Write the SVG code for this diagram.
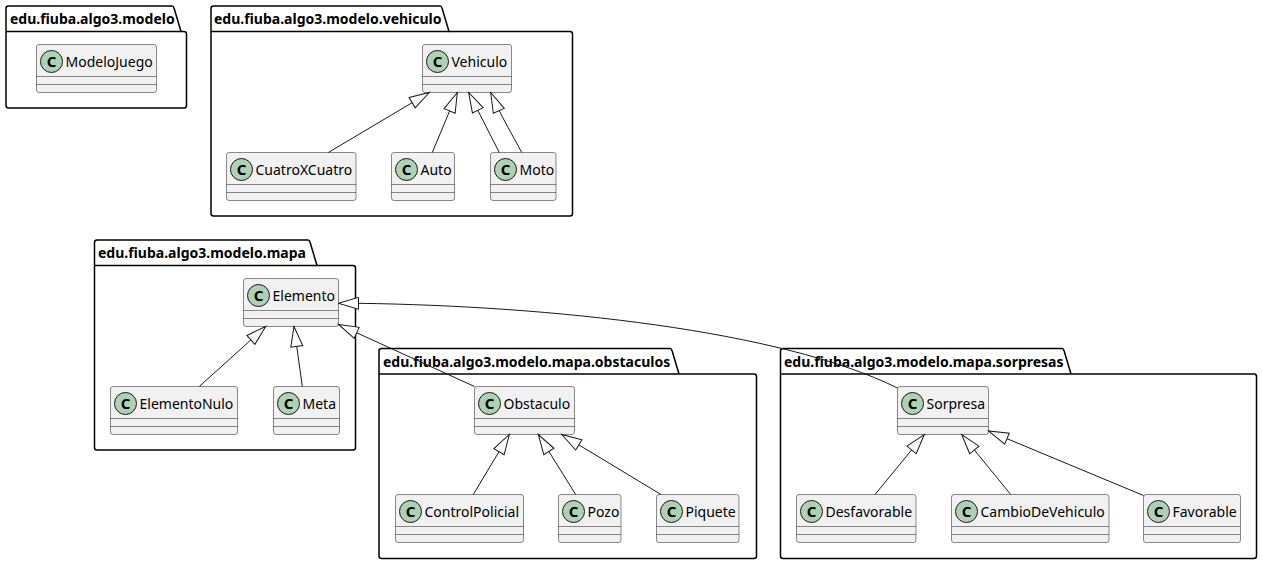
<svg xmlns="http://www.w3.org/2000/svg" width="1262" height="564" viewBox="0 0 1262 564">
<style>
.pkg{fill:none;stroke:#000;stroke-width:1.5}
.pt{font-family:"Noto Sans","DejaVu Sans",sans-serif;font-size:14px;font-weight:bold;fill:#000}
.box{fill:#F1F1F1;stroke:#181818;stroke-width:0.5}
.sep{stroke:#181818;stroke-width:0.5}
.ci{fill:#ADD1B2;stroke:#181818;stroke-width:1}
.cl{font-family:"Noto Sans","DejaVu Sans",sans-serif;font-size:15px;font-weight:bold;fill:#000;text-anchor:middle}
.nm{font-family:"Noto Sans","DejaVu Sans",sans-serif;font-size:14px;fill:#000}
.ln{fill:none;stroke:#181818;stroke-width:1;marker-end:url(#ext)}
</style>
<defs>
<marker id="ext" viewBox="0 0 20 12" refX="20" refY="6" markerWidth="20" markerHeight="12" markerUnits="userSpaceOnUse" orient="auto" overflow="visible">
<path d="M0,0 L20,6 L0,12 Z" fill="#fff" stroke="#181818" stroke-width="1"/>
</marker>
</defs>
<rect width="1262" height="564" fill="#fff"/>

<g id="pkg-modelo">
<path class="pkg" d="M6,8.5 Q6,6 8.5,6 L172,6 Q173.5,6 174,8 L181,31.5 L184,31.5 Q186.5,31.5 186.5,34 L186.5,105.5 Q186.5,108 184,108 L8.5,108 Q6,108 6,105.5 Z"/>
<path class="pkg" d="M6,31.5 L181,31.5"/>
<text class="pt" x="10" y="24">edu.fiuba.algo3.modelo</text>
</g>
<g id="pkg-vehiculo">
<path class="pkg" d="M211,8.5 Q211,6 213.5,6 L440,6 Q441.5,6 442,8 L449,31.5 L570,31.5 Q572.5,31.5 572.5,34 L572.5,213.5 Q572.5,216 570,216 L213.5,216 Q211,216 211,213.5 Z"/>
<path class="pkg" d="M211,31.5 L449,31.5"/>
<text class="pt" x="214" y="24">edu.fiuba.algo3.modelo.vehiculo</text>
</g>
<g id="pkg-mapa">
<path class="pkg" d="M94.5,242.5 Q94.5,240 97,240 L308,240 Q309.5,240 310,242 L317,265.5 L353,265.5 Q355.5,265.5 355.5,268 L355.5,447.5 Q355.5,450 353,450 L97,450 Q94.5,450 94.5,447.5 Z"/>
<path class="pkg" d="M94.5,265.5 L317,265.5"/>
<text class="pt" x="98" y="258">edu.fiuba.algo3.modelo.mapa</text>
</g>
<g id="pkg-obstaculos">
<path class="pkg" d="M379,351 Q379,348.5 381.5,348.5 L670,348.5 Q671.5,348.5 672,350.5 L679,374 L754,374 Q756.5,374 756.5,376.5 L756.5,556 Q756.5,558.5 754,558.5 L381.5,558.5 Q379,558.5 379,556 Z"/>
<path class="pkg" d="M379,374 L679,374"/>
<text class="pt" x="383" y="366.5">edu.fiuba.algo3.modelo.mapa.obstaculos</text>
</g>
<g id="pkg-sorpresas">
<path class="pkg" d="M780.5,351 Q780.5,348.5 783,348.5 L1062,348.5 Q1063.5,348.5 1064,350.5 L1071,374 L1254,374 Q1256.5,374 1256.5,376.5 L1256.5,556 Q1256.5,558.5 1254,558.5 L783,558.5 Q780.5,558.5 780.5,556 Z"/>
<path class="pkg" d="M780.5,374 L1071,374"/>
<text class="pt" x="784" y="366.5">edu.fiuba.algo3.modelo.mapa.sorpresas</text>
</g>

<g id="ModeloJuego" transform="translate(36.5,44.5)"><rect class="box" width="120" height="48" rx="2.5"/><circle class="ci" cx="15" cy="17" r="11"/><text class="cl" x="15" y="22.3">C</text><text class="nm" x="29" y="22.5">ModeloJuego</text><line class="sep" x1="0" y1="32" x2="120" y2="32"/><line class="sep" x1="0" y1="40" x2="120" y2="40"/></g>
<g id="Vehiculo" transform="translate(422.5,44.5)"><rect class="box" width="89" height="48" rx="2.5"/><circle class="ci" cx="15" cy="17" r="11"/><text class="cl" x="15" y="22.3">C</text><text class="nm" x="29" y="22.5">Vehiculo</text><line class="sep" x1="0" y1="32" x2="89" y2="32"/><line class="sep" x1="0" y1="40" x2="89" y2="40"/></g>
<g id="CuatroXCuatro" transform="translate(226.5,152.5)"><rect class="box" width="129.5" height="48" rx="2.5"/><circle class="ci" cx="15" cy="17" r="11"/><text class="cl" x="15" y="22.3">C</text><text class="nm" x="29" y="22.5">CuatroXCuatro</text><line class="sep" x1="0" y1="32" x2="129.5" y2="32"/><line class="sep" x1="0" y1="40" x2="129.5" y2="40"/></g>
<g id="Auto" transform="translate(391.5,152.5)"><rect class="box" width="63" height="48" rx="2.5"/><circle class="ci" cx="15" cy="17" r="11"/><text class="cl" x="15" y="22.3">C</text><text class="nm" x="29" y="22.5">Auto</text><line class="sep" x1="0" y1="32" x2="63" y2="32"/><line class="sep" x1="0" y1="40" x2="63" y2="40"/></g>
<g id="Moto" transform="translate(490.5,152.5)"><rect class="box" width="65.5" height="48" rx="2.5"/><circle class="ci" cx="15" cy="17" r="11"/><text class="cl" x="15" y="22.3">C</text><text class="nm" x="29" y="22.5">Moto</text><line class="sep" x1="0" y1="32" x2="65.5" y2="32"/><line class="sep" x1="0" y1="40" x2="65.5" y2="40"/></g>
<g id="Elemento" transform="translate(243.5,278.5)"><rect class="box" width="95" height="48" rx="2.5"/><circle class="ci" cx="15" cy="17" r="11"/><text class="cl" x="15" y="22.3">C</text><text class="nm" x="29" y="22.5">Elemento</text><line class="sep" x1="0" y1="32" x2="95" y2="32"/><line class="sep" x1="0" y1="40" x2="95" y2="40"/></g>
<g id="ElementoNulo" transform="translate(110.5,386.5)"><rect class="box" width="127" height="48" rx="2.5"/><circle class="ci" cx="15" cy="17" r="11"/><text class="cl" x="15" y="22.3">C</text><text class="nm" x="29" y="22.5">ElementoNulo</text><line class="sep" x1="0" y1="32" x2="127" y2="32"/><line class="sep" x1="0" y1="40" x2="127" y2="40"/></g>
<g id="Meta" transform="translate(273.5,386.5)"><rect class="box" width="66" height="48" rx="2.5"/><circle class="ci" cx="15" cy="17" r="11"/><text class="cl" x="15" y="22.3">C</text><text class="nm" x="29" y="22.5">Meta</text><line class="sep" x1="0" y1="32" x2="66" y2="32"/><line class="sep" x1="0" y1="40" x2="66" y2="40"/></g>
<g id="Obstaculo" transform="translate(474.5,386.5)"><rect class="box" width="100" height="48" rx="2.5"/><circle class="ci" cx="15" cy="17" r="11"/><text class="cl" x="15" y="22.3">C</text><text class="nm" x="29" y="22.5">Obstaculo</text><line class="sep" x1="0" y1="32" x2="100" y2="32"/><line class="sep" x1="0" y1="40" x2="100" y2="40"/></g>
<g id="ControlPolicial" transform="translate(395.5,494.5)"><rect class="box" width="128" height="48" rx="2.5"/><circle class="ci" cx="15" cy="17" r="11"/><text class="cl" x="15" y="22.3">C</text><text class="nm" x="29" y="22.5">ControlPolicial</text><line class="sep" x1="0" y1="32" x2="128" y2="32"/><line class="sep" x1="0" y1="40" x2="128" y2="40"/></g>
<g id="Pozo" transform="translate(558.5,494.5)"><rect class="box" width="62.5" height="48" rx="2.5"/><circle class="ci" cx="15" cy="17" r="11"/><text class="cl" x="15" y="22.3">C</text><text class="nm" x="29" y="22.5">Pozo</text><line class="sep" x1="0" y1="32" x2="62.5" y2="32"/><line class="sep" x1="0" y1="40" x2="62.5" y2="40"/></g>
<g id="Piquete" transform="translate(656.5,494.5)"><rect class="box" width="82.5" height="48" rx="2.5"/><circle class="ci" cx="15" cy="17" r="11"/><text class="cl" x="15" y="22.3">C</text><text class="nm" x="29" y="22.5">Piquete</text><line class="sep" x1="0" y1="32" x2="82.5" y2="32"/><line class="sep" x1="0" y1="40" x2="82.5" y2="40"/></g>
<g id="Sorpresa" transform="translate(897.5,386.5)"><rect class="box" width="91" height="48" rx="2.5"/><circle class="ci" cx="15" cy="17" r="11"/><text class="cl" x="15" y="22.3">C</text><text class="nm" x="29" y="22.5">Sorpresa</text><line class="sep" x1="0" y1="32" x2="91" y2="32"/><line class="sep" x1="0" y1="40" x2="91" y2="40"/></g>
<g id="Desfavorable" transform="translate(796.5,494.5)"><rect class="box" width="119.5" height="48" rx="2.5"/><circle class="ci" cx="15" cy="17" r="11"/><text class="cl" x="15" y="22.3">C</text><text class="nm" x="29" y="22.5">Desfavorable</text><line class="sep" x1="0" y1="32" x2="119.5" y2="32"/><line class="sep" x1="0" y1="40" x2="119.5" y2="40"/></g>
<g id="CambioDeVehiculo" transform="translate(951.5,494.5)"><rect class="box" width="157.5" height="48" rx="2.5"/><circle class="ci" cx="15" cy="17" r="11"/><text class="cl" x="15" y="22.3">C</text><text class="nm" x="29" y="22.5">CambioDeVehiculo</text><line class="sep" x1="0" y1="32" x2="157.5" y2="32"/><line class="sep" x1="0" y1="40" x2="157.5" y2="40"/></g>
<g id="Favorable" transform="translate(1143.5,494.5)"><rect class="box" width="97" height="48" rx="2.5"/><circle class="ci" cx="15" cy="17" r="11"/><text class="cl" x="15" y="22.3">C</text><text class="nm" x="29" y="22.5">Favorable</text><line class="sep" x1="0" y1="32" x2="97" y2="32"/><line class="sep" x1="0" y1="40" x2="97" y2="40"/></g>

<g id="connectors">
<path class="ln" d="M328.3,152.5 L429.3,92.5"/>
<path class="ln" d="M432.3,152.5 L457.3,92.5"/>
<path class="ln" d="M499.3,152.5 L468.7,92.5"/>
<path class="ln" d="M521.7,152.5 C512,134 502,118 490.7,92.5"/>
<path class="ln" d="M199.3,386.5 L265.7,326.5"/>
<path class="ln" d="M302.3,386.5 L294,326.5"/>
<path class="ln" d="M474.5,386.5 L338.5,324.5"/>
<path class="ln" d="M897.5,388 C780,330 550,306 358.5,303.3 L338.5,303.3"/>
<path class="ln" d="M473.3,494.5 L509.3,434.5"/>
<path class="ln" d="M575.7,494.5 L538.3,434.5"/>
<path class="ln" d="M661,494.5 L561.7,434.5"/>
<path class="ln" d="M875,494.5 L924.3,434.5"/>
<path class="ln" d="M1010.7,494.5 L961.7,434.5"/>
<path class="ln" d="M1143.5,495.5 L988.5,431"/>
</g>
</svg>
